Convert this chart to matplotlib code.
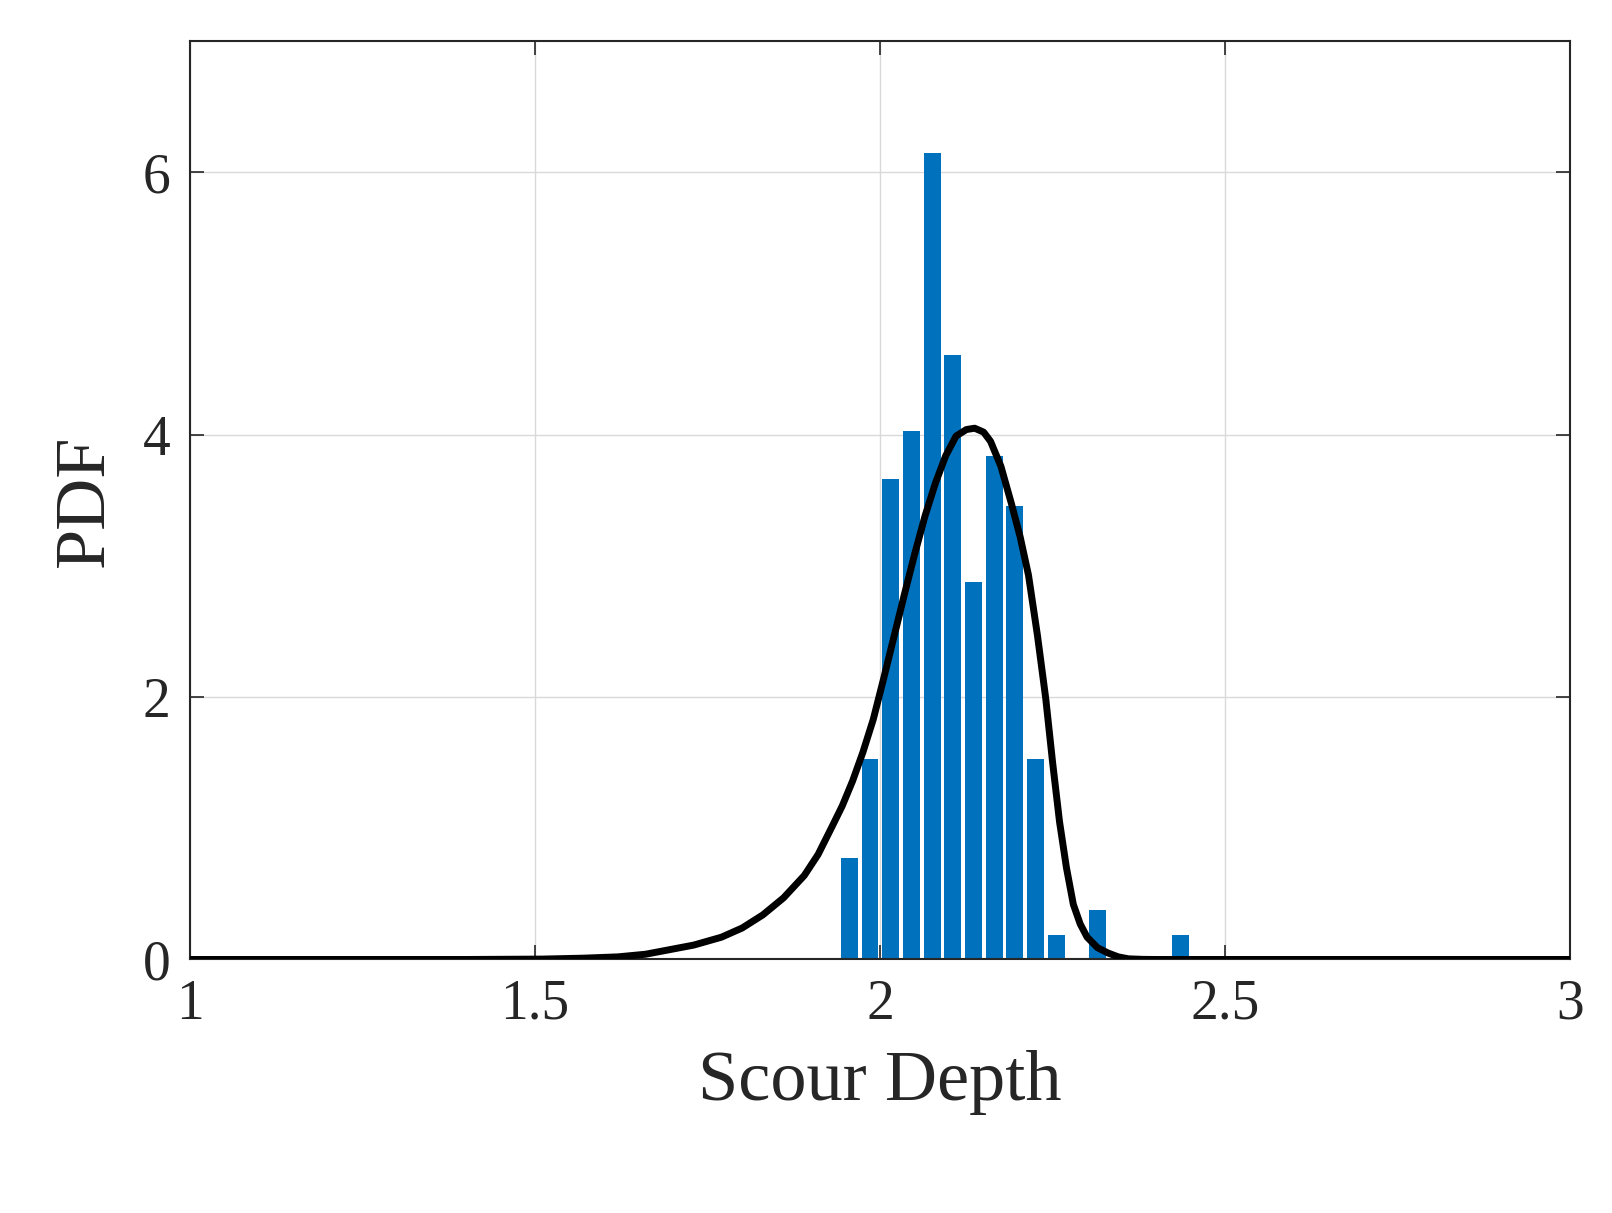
import matplotlib
matplotlib.use('Agg')
import matplotlib.pyplot as plt

# histogram bins (left edges) and densities
bin_width = 0.03
bin_left = [1.943, 1.973, 2.003, 2.033, 2.063, 2.093, 2.123, 2.153, 2.183,
            2.213, 2.243, 2.273, 2.303, 2.333, 2.363, 2.393, 2.423]
bin_pdf = [0.77, 1.53, 3.66, 4.03, 6.15, 4.61, 2.88, 3.84, 3.46,
           1.53, 0.19, 0.0, 0.38, 0.0, 0.0, 0.0, 0.19]

# fitted pdf curve
curve_x = [1.0, 1.40, 1.51, 1.57, 1.62, 1.66, 1.69, 1.73, 1.77, 1.80, 1.83,
           1.86, 1.89, 1.91, 1.93, 1.945, 1.96, 1.975, 1.99, 2.005, 2.02,
           2.035, 2.05, 2.065, 2.08, 2.095, 2.11, 2.125, 2.137, 2.15, 2.16,
           2.175, 2.19, 2.203, 2.215, 2.228, 2.24, 2.25, 2.26, 2.27, 2.28,
           2.29, 2.30, 2.315, 2.33, 2.345, 2.36, 2.38, 2.40, 3.0]
curve_y = [0.0, 0.0, 0.003, 0.01, 0.02, 0.04, 0.07, 0.11, 0.17, 0.24, 0.34,
           0.47, 0.64, 0.80, 1.01, 1.17, 1.36, 1.58, 1.83, 2.14, 2.46,
           2.78, 3.09, 3.38, 3.63, 3.84, 3.99, 4.04, 4.05, 4.02, 3.95,
           3.76, 3.48, 3.22, 2.93, 2.47, 1.99, 1.50, 1.05, 0.70, 0.42,
           0.27, 0.17, 0.09, 0.05, 0.02, 0.005, 0.001, 0.0, 0.0]

plt.rcParams['font.family'] = ['Liberation Serif', 'DejaVu Serif']

fig = plt.figure(figsize=(16.12, 12.13), dpi=100)
ax = fig.add_axes([0.118, 0.209, 0.856, 0.757])

ax.bar(bin_left, bin_pdf, width=bin_width * 0.82, align='edge',
       color='#0072BD', zorder=2)
ax.plot(curve_x, curve_y, color='black', lw=5, zorder=3,
        solid_joinstyle='round')

ax.set_xlim(1, 3)
ax.set_ylim(0, 7)
ax.set_xticks([1, 1.5, 2, 2.5, 3])
ax.set_xticklabels(['1', '1.5', '2', '2.5', '3'])
ax.set_yticks([0, 2, 4, 6])
ax.grid(True, color='#d9d9d9', lw=1, zorder=0)
ax.tick_params(direction='in', top=True, right=True, length=10, width=1.2,
               labelsize=40, colors='#262626', pad=14)
for s in ax.spines.values():
    s.set_linewidth(1.5)
    s.set_color('#262626')

ax.set_xlabel('Scour Depth', fontsize=52, color='#262626', labelpad=14)
ax.set_ylabel('PDF', fontsize=52, color='#262626', labelpad=18)

plt.savefig('out.png', dpi=100)
